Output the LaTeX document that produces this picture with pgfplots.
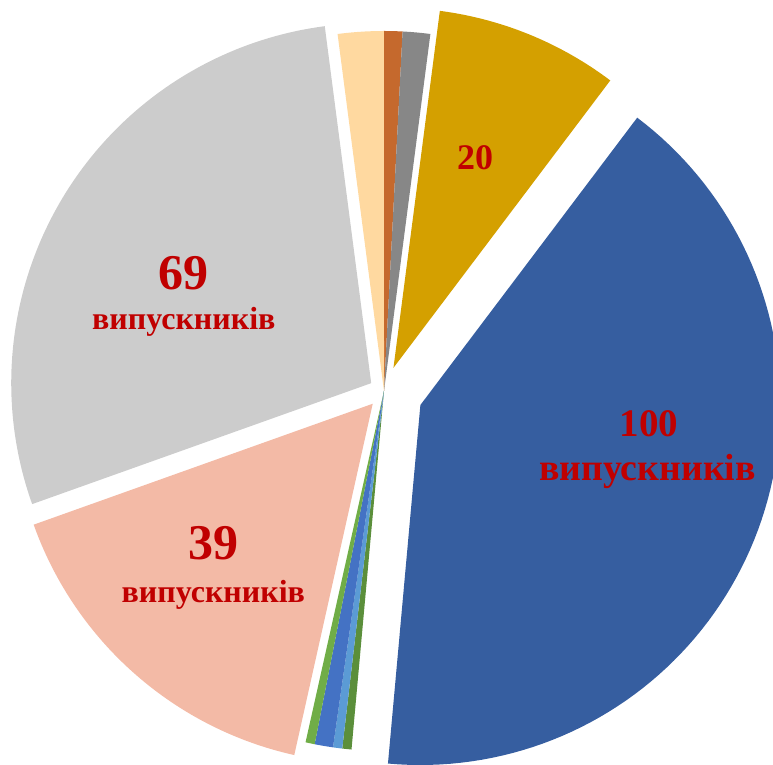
\documentclass[border=0pt]{standalone}
\usepackage{pgfplots}
\pgfplotsset{compat=1.18}
\usepackage{fontspec}
\setmainfont{Liberation Serif}
\definecolor{cOrange}{HTML}{C5692D}
\definecolor{cGray}{HTML}{878787}
\definecolor{cGold}{HTML}{D4A000}
\definecolor{cBlue}{HTML}{365EA0}
\definecolor{cDGreen}{HTML}{5B8F3B}
\definecolor{cLBlue}{HTML}{5B9BD5}
\definecolor{cMBlue}{HTML}{4472C4}
\definecolor{cLGreen}{HTML}{70AD47}
\definecolor{cSalmon}{HTML}{F3BAA6}
\definecolor{cLGray}{HTML}{CCCCCC}
\definecolor{cPeach}{HTML}{FFD9A0}
\definecolor{labred}{HTML}{C00000}
\def\total{243}
\def\cx{384}
\def\cy{-391}
\def\R{360}
\newcommand\slice[3]{%
  \pgfmathsetmacro\aA{\cum/\total*360}%
  \pgfmathsetmacro\aB{(\cum+#1)/\total*360}%
  \pgfmathsetmacro\aM{(\aA+\aB)/2}%
  \pgfmathsetmacro\ox{\cx+#3*sin(\aM)}%
  \pgfmathsetmacro\oy{\cy+#3*cos(\aM)}%
  \edef\doslice{\noexpand\addplot[fill=#2, draw=none, domain=\aA:\aB, samples=90] ({\ox+\R*sin(x)}, {\oy+\R*cos(x)}) -- (axis cs:\ox,\oy) -- cycle;}%
  \doslice
  \pgfmathsetmacro\newcum{\cum+#1}%
  \xdef\cum{\newcum}%
}
\begin{document}
\begin{tikzpicture}
\begin{axis}[width=386.5pt,height=382.5pt,scale only axis,
  xmin=0,xmax=773,ymin=-765,ymax=0,hide axis,clip bounding box=upper bound]
\gdef\cum{0}
% value, colour, explosion (px)
\slice{2}{cOrange}{0}
\slice{3}{cGray}{0}
\slice{20}{cGold}{25}
\slice{100}{cBlue}{39}
\slice{1}{cDGreen}{0}
\slice{1}{cLBlue}{0}
\slice{2}{cMBlue}{0}
\slice{1}{cLGreen}{0}
\slice{39}{cSalmon}{17}
\slice{69}{cLGray}{15}
\slice{5}{cPeach}{0}
\path (axis cs:0,-765) rectangle (axis cs:773,0);
\node[anchor=base,inner sep=0,text=labred,font=\bfseries\fontsize{18}{18}\selectfont] at (axis cs:475,-169.3) {20};
\node[anchor=base,inner sep=0,text=labred,font=\bfseries\fontsize{25}{25}\selectfont] at (axis cs:183.3,-289.3) {69};
\node[anchor=base,inner sep=0,text=labred,font=\bfseries\fontsize{16}{16}\selectfont] at (axis cs:183.8,-330) {випускників};
\node[anchor=base,inner sep=0,text=labred,font=\bfseries\fontsize{19.5}{19.5}\selectfont] at (axis cs:648.8,-436.7) {100};
\node[anchor=base,inner sep=0,text=labred,font=\bfseries\fontsize{18.9}{18.9}\selectfont] at (axis cs:647.5,-480.7) {випускників};
\node[anchor=base,inner sep=0,text=labred,font=\bfseries\fontsize{25}{25}\selectfont] at (axis cs:213.3,-560) {39};
\node[anchor=base,inner sep=0,text=labred,font=\bfseries\fontsize{16}{16}\selectfont] at (axis cs:213.3,-603) {випускників};
\end{axis}
\end{tikzpicture}
\end{document}
